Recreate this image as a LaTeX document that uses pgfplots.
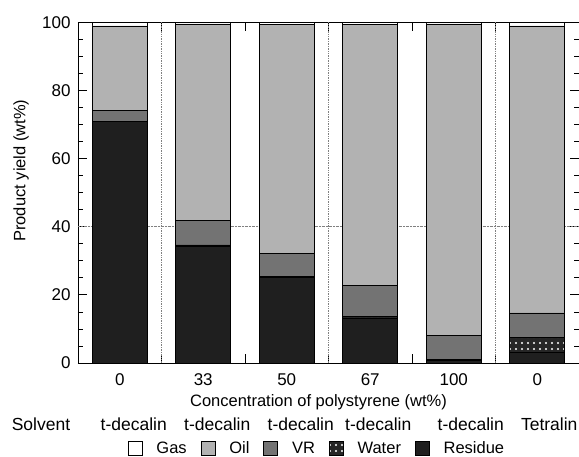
\documentclass[border=0pt]{standalone}
\usepackage{fontspec}
\setmainfont{Liberation Sans}
\usepackage{pgfplots}
\usepackage{pgfplotstable}
\pgfplotsset{compat=1.18}
\usetikzlibrary{patterns.meta}
\tikzdeclarepattern{
  name=waterdots, type=uncolored,
  bottom left={(-3pt,-3pt)}, top right={(3pt,3pt)}, tile size={(6pt,6pt)},
  code={\fill (0pt,0pt) circle (1.1pt);}
}
\definecolor{oilc}{gray}{0.70}
\definecolor{vrc}{gray}{0.45}
\definecolor{resc}{gray}{0.12}
\definecolor{watc}{gray}{0.15}
\pgfplotsset{legimg/.style={legend image code/.code={\draw[##1] (0pt,-6.5pt) rectangle (14pt,7.5pt);}}}
\pgfplotstableread{
x residue water vr oil gas
0 70.9 0.0 3.4 24.7 1.0
1 34.2 0.5 7.2 57.7 0.4
2 25.1 0.4 6.7 67.3 0.5
3 13.1 0.5 9.3 76.6 0.5
4 0.8 0.3 6.9 91.6 0.4
5 3.2 4.3 7.2 84.3 1.0
}\datatable
\newcommand{\fs}{\fontsize{16.5}{19}\selectfont}
\newcommand{\fss}{\fontsize{17.5}{20}\selectfont}
\begin{document}
\begin{tikzpicture}
\path[use as bounding box] (-78pt,-94pt) rectangle (501pt,363pt);
\begin{axis}[
  at={(0,0)}, anchor=south west,
  scale only axis, width=501pt, height=340.5pt,
  ybar stacked, bar width=55pt,
  xmin=-0.5, xmax=5.5, ymin=0, ymax=100,
  enlargelimits=false, clip=false,
  xtick={0.5,1.5,2.5,3.5,4.5}, xticklabels={},
  extra x ticks={0,1,2,3,4,5},
  extra x tick labels={0,33,50,67,100,0},
  extra x tick style={tick style={draw=none}},
  ytick={0,20,40,60,80,100}, minor y tick num=3,
  extra y ticks={40}, extra y tick labels={},
  extra y tick style={grid=major, major grid style={densely dotted, gray, line width=0.7pt}, tick style={draw=none}},
  tick align=inside, tick pos=both,
  major tick length=9pt, minor tick length=5pt,
  tick style={black, line width=0.8pt},
  axis line style={line width=0.8pt},
  /pgf/number format/assume math mode=true,
  tick label style={font=\fontsize{17}{19}\selectfont},
  yticklabel style={xshift=-4pt},
  xticklabel style={yshift=-7pt},
  ylabel={Product yield (wt\%)},
  xlabel={Concentration of polystyrene (wt\%)},
  every axis y label/.style={at={(rel axis cs:0,0.565)}, xshift=-57pt, rotate=90, anchor=center, font=\fs},
  every axis x label/.style={at={(rel axis cs:0.5,0)}, xshift=-10pt, yshift=-39pt, anchor=center, font=\fs},
  legend style={at={(rel axis cs:0.5,0)}, xshift=-11.5pt, yshift=-85.5pt, anchor=center,
    draw=none, fill=none, font=\fs, legend columns=5,
    /tikz/every odd column/.append style={column sep=12pt},
    /tikz/every even column/.append style={column sep=12pt}},
  reverse legend,
]
\addplot[legimg, draw=black, line width=0.6pt, fill=resc] table[x=x, y=residue] {\datatable};
\addlegendentry{Residue}
\addplot[legimg, draw=black, line width=0.6pt, fill=watc, postaction={pattern=waterdots, pattern color=white}] table[x=x, y=water] {\datatable};
\addlegendentry{Water}
\addplot[legimg, draw=black, line width=0.6pt, fill=vrc] table[x=x, y=vr] {\datatable};
\addlegendentry{VR}
\addplot[legimg, draw=black, line width=0.6pt, fill=oilc] table[x=x, y=oil] {\datatable};
\addlegendentry{Oil}
\addplot[legimg, draw=black, line width=0.6pt, fill=white] table[x=x, y=gas] {\datatable};
\addlegendentry{Gas}
\draw[densely dotted, gray, line width=0.7pt] (axis cs:0.5,0) -- (axis cs:0.5,100);
\draw[densely dotted, gray, line width=0.7pt] (axis cs:2.5,0) -- (axis cs:2.5,100);
\draw[densely dotted, gray, line width=0.7pt] (axis cs:4.5,0) -- (axis cs:4.5,100);
\node[font=\fss, xshift=-37pt, yshift=-61pt] at (rel axis cs:0,0) {Solvent};
\node[font=\fss, xshift=14pt, yshift=-61pt] at (axis cs:0,0) {t-decalin};
\node[font=\fss, xshift=14pt, yshift=-61pt] at (axis cs:1,0) {t-decalin};
\node[font=\fss, xshift=14pt, yshift=-61pt] at (axis cs:2,0) {t-decalin};
\node[font=\fss, xshift=8pt, yshift=-61pt] at (axis cs:3,0) {t-decalin};
\node[font=\fss, xshift=17pt, yshift=-61pt] at (axis cs:4,0) {t-decalin};
\node[font=\fss, xshift=12pt, yshift=-61pt] at (axis cs:5,0) {Tetralin};
\end{axis}
\end{tikzpicture}
\end{document}
